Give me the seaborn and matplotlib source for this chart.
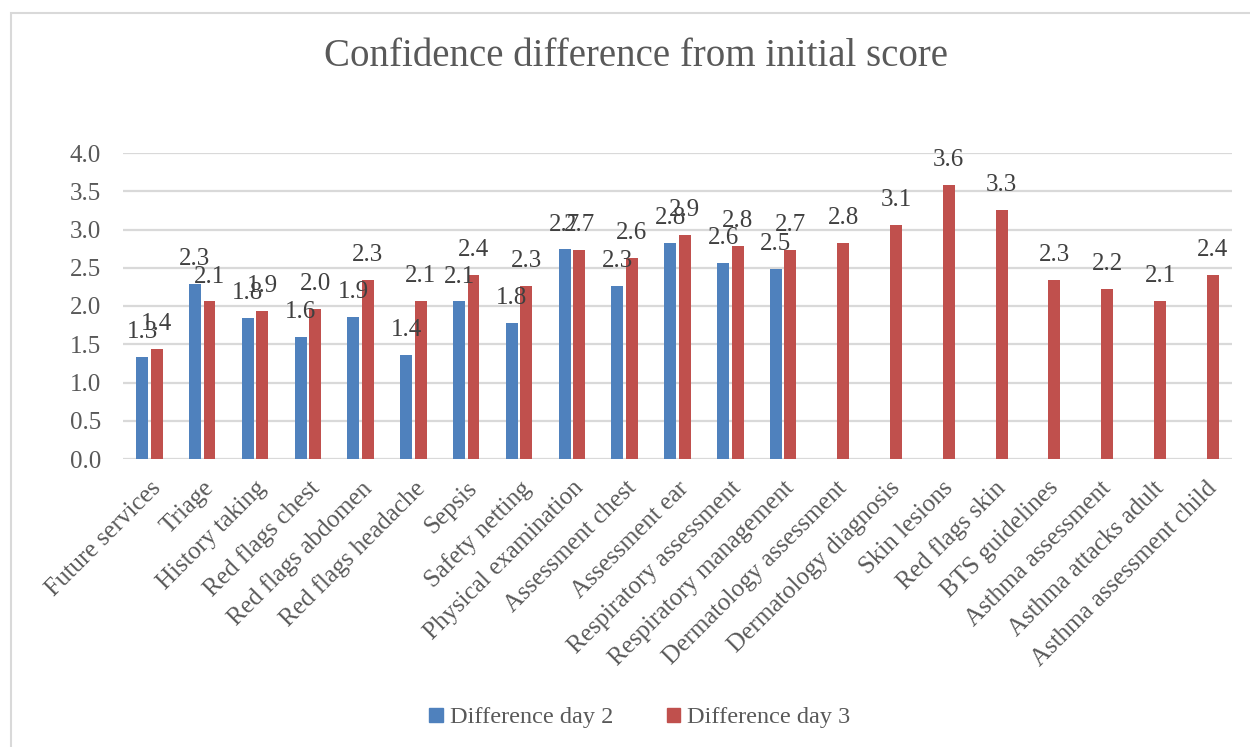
import numpy as np
import pandas as pd
import matplotlib
matplotlib.use("Agg")
import matplotlib.pyplot as plt
import matplotlib.patches as mpatches
import seaborn as sns

# -----------------------------------------
#  Data
# -----------------------------------------

CATEGORIES = [
    "Future services", "Triage", "History taking", "Red flags chest",
    "Red flags abdomen", "Red flags headache", "Sepsis", "Safety netting",
    "Physical examination", "Assessment chest", "Assessment ear",
    "Respiratory assessment", "Respiratory management",
    "Dermatology assessment", "Dermatology diagnosis", "Skin lesions",
    "Red flags skin", "BTS guidelines", "Asthma assessment",
    "Asthma attacks adult", "Asthma assessment child",
]

DAY2 = [1.33, 2.29, 1.84, 1.59, 1.86, 1.36, 2.06, 1.78, 2.74, 2.26, 2.82,
        2.56, 2.48, np.nan, np.nan, np.nan, np.nan, np.nan, np.nan, np.nan,
        np.nan]
DAY3 = [1.44, 2.06, 1.93, 1.96, 2.34, 2.07, 2.41, 2.26, 2.73, 2.63, 2.93,
        2.78, 2.73, 2.82, 3.06, 3.58, 3.26, 2.34, 2.22, 2.07, 2.41]

SERIES = ["Difference day 2", "Difference day 3"]
COLORS = {"Difference day 2": "#4F81BD", "Difference day 3": "#C0504D"}

YTICKS = [0.0, 0.5, 1.0, 1.5, 2.0, 2.5, 3.0, 3.5, 4.0]

TEXT = "#595959"
GRID = "#D9D9D9"
FONT = ["Liberation Serif", "DejaVu Serif"]

# -----------------------------------------
#  Build long table
# -----------------------------------------

df = pd.DataFrame({
    "Topic": CATEGORIES * 2,
    "Series": [SERIES[0]] * len(CATEGORIES) + [SERIES[1]] * len(CATEGORIES),
    "Value": DAY2 + DAY3,
}).dropna()

# -----------------------------------------
#  Plot
# -----------------------------------------

sns.set_theme(style="white")
plt.rcParams["font.family"] = FONT

fig = plt.figure(figsize=(12.5, 7.47), dpi=100)
ax = fig.add_axes([123 / 1250, 1 - 459 / 747, (1232 - 123) / 1250, (459 - 153) / 747])

sns.barplot(data=df, x="Topic", y="Value", hue="Series", order=CATEGORIES,
            hue_order=SERIES, palette=COLORS, width=0.55, gap=0.18,
            errorbar=None, ax=ax, legend=False, saturation=1, linewidth=0)

for cont in ax.containers:
    ax.bar_label(cont, fmt="%.1f", padding=10, fontsize=18, color="#404040",
                 family=FONT)

ax.set_ylim(0, 4)
ax.set_xlim(-0.5, len(CATEGORIES) - 0.5)
ax.set_yticks(YTICKS)
ax.set_yticklabels([f"{v:.1f}" for v in YTICKS])
ax.yaxis.grid(True, color=GRID, linewidth=1.6)
ax.set_axisbelow(True)
for s in ax.spines.values():
    s.set_visible(False)
ax.set_xlabel("")
ax.set_ylabel("")

ax.tick_params(axis="y", length=0, pad=16, labelsize=18, labelcolor=TEXT)
ax.tick_params(axis="x", length=0, pad=13, labelsize=18, labelcolor=TEXT)
ax.set_xticks(range(len(CATEGORIES)))
ax.set_xticklabels(CATEGORIES, rotation=45, ha="right", va="top",
                   rotation_mode="anchor")

fig.text(636 / 1250, 1 - 57 / 747, "Confidence difference from initial score",
         ha="center", va="center", fontsize=28, color=TEXT)

handles = [mpatches.Patch(color=COLORS[s], label=s) for s in SERIES]
fig.legend(handles=handles, loc="center", ncol=2, frameon=False,
           bbox_to_anchor=(640 / 1250, 1 - 718 / 747), fontsize=17.5,
           labelcolor=TEXT, handlelength=0.55, handleheight=0.55,
           handletextpad=0.3, columnspacing=2.2)

# outer chart-area border
fig.patches.append(mpatches.Rectangle((11 / 1250, -0.1), 1.2, 1.1 - 13 / 747,
                                      transform=fig.transFigure, fill=False,
                                      edgecolor=GRID, linewidth=1.5))

fig.savefig("out.png", dpi=100, facecolor="white")
